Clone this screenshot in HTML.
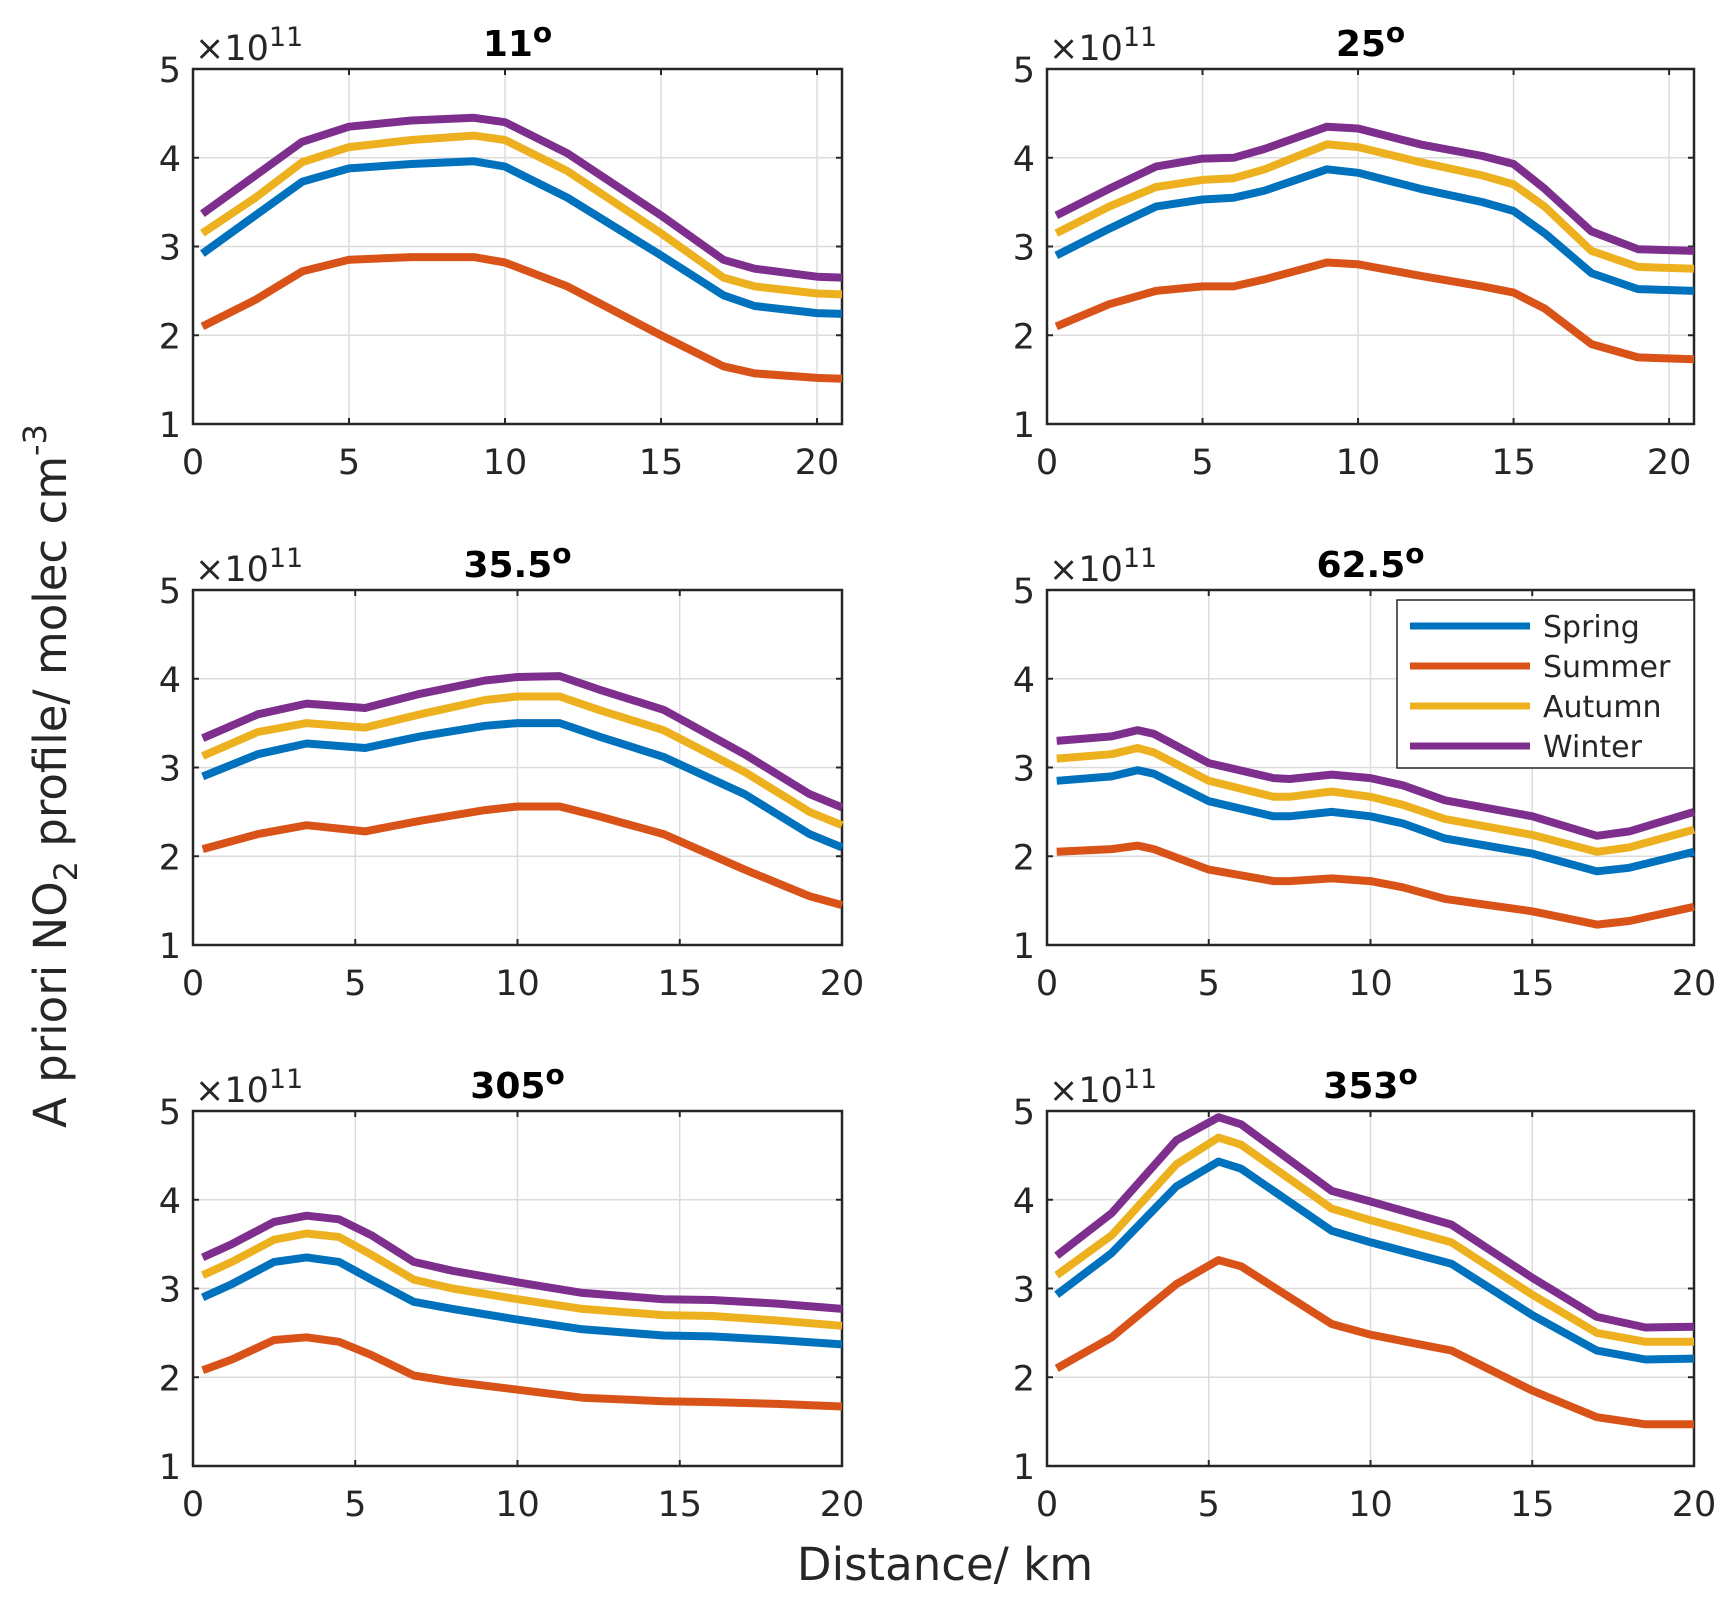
<!DOCTYPE html>
<html><head><meta charset="utf-8"><style>
body{margin:0;background:#fff;}
svg{display:block;font-family:"DejaVu Sans","Liberation Sans",sans-serif;}
</style></head><body>
<svg id="fig" width="1733" height="1606" viewBox="0 0 1733 1606" xmlns="http://www.w3.org/2000/svg">
<text transform="translate(66,776) rotate(-90)" text-anchor="middle" font-size="45" fill="#262626">A priori NO<tspan font-size="32" dy="11">2</tspan><tspan dy="-11"> profile/ molec cm</tspan><tspan font-size="32" dy="-20">-3</tspan></text>
<text x="945" y="1580" text-anchor="middle" font-size="45" fill="#262626">Distance/ km</text>
</svg>
<script>
const titles=["11","25","35.5","62.5","305","353"];
const xMaxs=[20.8,20.8,20,20,20,20];
const seasons=["Spring","Summer","Autumn","Winter"];
const colors=["#0072BD","#D95319","#EDB120","#7E2F8E"];
const xTicks=[0,5,10,15,20];
const yTicks=[1,2,3,4,5];
const p1x=[0.3,2,3.5,5,7,9,10,12,15,17,18,20,20.8];
const p1=[[2.92,3.35,3.73,3.88,3.93,3.96,3.9,3.55,2.9,2.45,2.33,2.25,2.24],
[2.1,2.4,2.72,2.85,2.88,2.88,2.82,2.55,2.0,1.65,1.57,1.52,1.51],
[3.15,3.55,3.95,4.12,4.2,4.25,4.2,3.85,3.15,2.65,2.55,2.47,2.46],
[3.37,3.8,4.18,4.35,4.42,4.45,4.4,4.05,3.35,2.85,2.75,2.66,2.65]];
const p2x=[0.3,2,3.5,5,6,7,9,10,12,14,15,16,17.5,19,20.8];
const p2=[[2.9,3.2,3.45,3.53,3.55,3.63,3.87,3.83,3.65,3.5,3.4,3.15,2.7,2.52,2.5],
[2.1,2.35,2.5,2.55,2.55,2.63,2.82,2.8,2.67,2.55,2.48,2.3,1.9,1.75,1.73],
[3.15,3.45,3.67,3.75,3.77,3.87,4.15,4.12,3.95,3.8,3.7,3.45,2.95,2.77,2.75],
[3.35,3.65,3.9,3.99,4.0,4.1,4.35,4.33,4.15,4.02,3.93,3.65,3.17,2.97,2.95]];
const p3x=[0.3,2,3.5,5.3,7,9,10,11.3,12.5,14.5,17,19,20];
const p3=[[2.9,3.15,3.27,3.22,3.35,3.47,3.5,3.5,3.35,3.12,2.7,2.25,2.1],
[2.08,2.25,2.35,2.28,2.4,2.52,2.56,2.56,2.45,2.25,1.85,1.55,1.45],
[3.13,3.4,3.5,3.45,3.6,3.76,3.8,3.8,3.65,3.42,2.95,2.5,2.35],
[3.33,3.6,3.72,3.67,3.83,3.98,4.02,4.03,3.88,3.65,3.15,2.7,2.55]];
const p4x=[0.3,2,2.8,3.3,5,7,7.5,8.8,10,11,12.3,15,17,18,20];
const p4=[[2.85,2.9,2.97,2.93,2.62,2.45,2.45,2.5,2.45,2.37,2.2,2.03,1.83,1.87,2.05],
[2.05,2.08,2.12,2.08,1.85,1.72,1.72,1.75,1.72,1.65,1.52,1.38,1.23,1.27,1.43],
[3.1,3.15,3.22,3.17,2.85,2.67,2.67,2.73,2.67,2.58,2.42,2.24,2.05,2.1,2.3],
[3.3,3.35,3.42,3.38,3.05,2.88,2.87,2.92,2.88,2.8,2.63,2.45,2.23,2.28,2.5]];
const p5x=[0.3,1.2,2.5,3.5,4.5,5.5,6.8,8,10,12,14.5,16,18,20];
const p5=[[2.9,3.05,3.3,3.35,3.3,3.1,2.85,2.77,2.65,2.54,2.47,2.46,2.42,2.37],
[2.08,2.2,2.42,2.45,2.4,2.25,2.02,1.95,1.86,1.77,1.73,1.72,1.7,1.67],
[3.15,3.3,3.55,3.62,3.58,3.38,3.1,3.0,2.88,2.77,2.7,2.69,2.64,2.58],
[3.35,3.5,3.75,3.82,3.78,3.6,3.3,3.2,3.07,2.95,2.88,2.87,2.83,2.77]];
const p6x=[0.3,2,4,5.3,6,8.8,10,12.5,15,17,18.5,20];
const p6=[[2.93,3.4,4.15,4.43,4.35,3.65,3.52,3.28,2.7,2.3,2.2,2.21],
[2.1,2.45,3.05,3.32,3.25,2.6,2.48,2.3,1.85,1.55,1.47,1.47],
[3.15,3.6,4.4,4.7,4.62,3.9,3.77,3.52,2.93,2.5,2.4,2.4],
[3.37,3.85,4.67,4.93,4.85,4.1,3.98,3.72,3.12,2.68,2.56,2.57]];
const allX=[p1x,p2x,p3x,p4x,p5x,p6x];
const allY=[p1,p2,p3,p4,p5,p6];

const NS="http://www.w3.org/2000/svg";
const svg=document.getElementById('fig');
function mk(tag,attrs,parent){const e=document.createElementNS(NS,tag);for(const k in attrs)e.setAttribute(k,attrs[k]);(parent||svg).appendChild(e);return e;}
const lefts=[193,1047],rights=[842,1694],tops=[69,590,1111],H=355;
for(let p=0;p<6;p++){
 const c=p%2,r=Math.floor(p/2);
 const L=lefts[c],R=rights[c],T=tops[r],B=T+H;
 const g=mk('g',{});
 
 
 const sx=v=>L+(v/xMaxs[p])*(R-L);
 const sy=v=>B-(v-1)/4*(B-T);
 mk('rect',{x:L,y:T,width:R-L,height:H,fill:'#fff'},g);
 xTicks.forEach(t=>{const x=sx(t);
  if(t>0){const gl=mk('line',{x1:x,x2:x,y1:T,y2:B,stroke:'#dcdcdc','stroke-width':1.5},g);}
  mk('line',{x1:x,x2:x,y1:B,y2:B-6,stroke:'#262626','stroke-width':2},g);
  mk('line',{x1:x,x2:x,y1:T,y2:T+6,stroke:'#262626','stroke-width':2},g);
  const tx=mk('text',{x:x,y:B+50,'text-anchor':'middle','font-size':35,fill:'#262626'},g);tx.textContent=t;
  });
 yTicks.forEach(t=>{const y=sy(t);
  if(t>1&&t<5){const gl=mk('line',{x1:L,x2:R,y1:y,y2:y,stroke:'#dcdcdc','stroke-width':1.5},g);}
  mk('line',{x1:L,x2:L+6,y1:y,y2:y,stroke:'#262626','stroke-width':2},g);
  mk('line',{x1:R,x2:R-6,y1:y,y2:y,stroke:'#262626','stroke-width':2},g);
  const ty=mk('text',{x:L-12,y:y+13,'text-anchor':'end','font-size':35,fill:'#262626'},g);ty.textContent=t;
  });
 const fr=mk('rect',{x:L,y:T,width:R-L,height:H,fill:'none',stroke:'#262626','stroke-width':2.5},g);
 
 const ex=mk('text',{x:L+2,y:T-9,'font-size':35,fill:'#262626'},g);
 ex.innerHTML='×10<tspan font-size="27" dy="-14">11</tspan>';
 
 const ti=mk('text',{x:(L+R)/2,y:T-13,'text-anchor':'middle','font-size':36,'font-weight':'bold',fill:'#000'},g);
 ti.innerHTML=titles[p]+'<tspan font-size="28" dy="-14">o</tspan>';
 
 for(let s=0;s<4;s++){
  const pts=allX[p].map((x,i)=>sx(x).toFixed(1)+','+sy(allY[p][s][i]).toFixed(1)).join(' ');
  const pl=mk('polyline',{points:pts,fill:'none',stroke:colors[s],'stroke-width':8,'stroke-linejoin':'round'},g);
  
  
 }
}
const lg=mk('g',{});


mk('rect',{x:1397,y:600,width:297,height:168,fill:'#fff',stroke:'#262626','stroke-width':1.5},lg);
seasons.forEach((s,i)=>{const y=626+i*40;
 mk('line',{x1:1410,x2:1530,y1:y,y2:y,stroke:colors[i],'stroke-width':7},lg);
 const t=mk('text',{x:1543,y:y+11,'font-size':30,fill:'#262626'},lg);t.textContent=s;
 
 
});
</script>
</body></html>
